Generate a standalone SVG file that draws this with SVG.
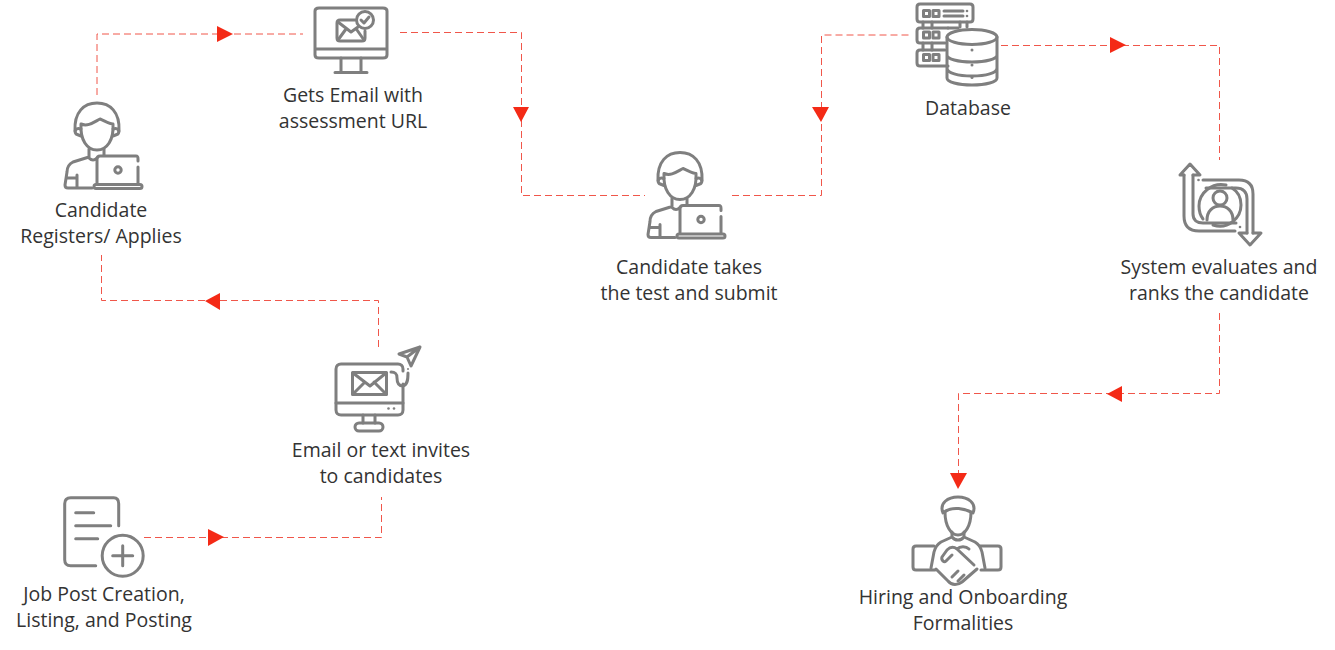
<svg xmlns="http://www.w3.org/2000/svg" xmlns:xlink="http://www.w3.org/1999/xlink" width="1335" height="650" viewBox="0 0 1335 650">
<style>
.i{fill:none;stroke:#7f7f7f;stroke-width:3;stroke-linecap:round;stroke-linejoin:round}
.d{fill:#7f7f7f;stroke:none}
.c{fill:none;stroke:#f0564a;stroke-width:1;stroke-dasharray:7 4}
.a{fill:#f42a16;stroke:none}
text{font-family:"Open Sans","Noto Sans","Liberation Sans",sans-serif;font-size:19.5px;fill:#333;text-anchor:middle}
</style>
<defs>
<g id="person">
<path class="i" d="M75 131C74 112 84 103 97 103C110 103 120 112 119 131"/>
<path class="i" d="M81 124C88 127 94 122 100 119C105 121 109 124 113 124C114 140 107 150 97 150C87 150 80 140 81 124Z"/>
<path class="i" d="M81 129C76 127 74 131 76 134L81 136M113 129C118 127 120 131 118 134L113 136"/>
<path class="i" d="M89 149V157L73 162C69 164 67 168 67 172L65 185C65 187 66 188 68 188H92M104 149V155M89 158C92 161 95 160 97 158M77 175V188M66 178H77"/>
<path class="i" d="M97 183V159C97 157 98 156 100 156H136C138 156 138 157 138 159V161M138 167V183"/>
<rect class="i" x="94" y="184.500" width="48" height="4" rx="2"/>
<circle class="i" cx="118" cy="170" r="3.200"/>
</g>
</defs>
<g id="connectors">
<path class="c" d="M97 95V34H303"/><path class="a" d="M217 26L233 34L217 42Z"/>
<path class="c" d="M400 32.500H521.500V195.500H645"/><path class="a" d="M513 107H529L521 122Z"/>
<path class="c" d="M732 195.500H821.500V35H910"/><path class="a" d="M812 107H829L821 122Z"/>
<path class="c" d="M1001 45.500H1219.500V160"/><path class="a" d="M1110 37L1126 45L1110 53Z"/>
<path class="c" d="M1219.500 313V393.500H958.500V475"/><path class="a" d="M1122 386L1107 394L1122 402Z"/><path class="a" d="M950 473H967L958 489Z"/>
<path class="c" d="M378.500 347V300.500H101.500V255"/><path class="a" d="M220 293L205 301L220 310Z"/>
<path class="c" d="M144 537.500H381.500V497"/><path class="a" d="M208 529L224 537L208 546Z"/>
</g>
<g id="job-post">
<g transform="translate(0.700 0.700)">
<path class="i" d="M118 525V503C118 499 116 497 113 497H70C66 497 64 499 64 503V559C64 563 66 565 70 565H95"/>
<path class="i" d="M75 512H93M75 525H110M75 538H97"/>
<circle class="i" cx="122" cy="555" r="20.500"/>
<path class="i" d="M122 545V565M112 555H132"/>
</g>
<text x="104" y="601">Job Post Creation,</text><text x="104" y="627">Listing, and Posting</text>
</g>
<g id="invites">
<path class="i" d="M403 384V410C403 413 401 415 398 415H341C338 415 336 413 336 410V369C336 366 338 364 341 364H398C401 364 403 366 403 369V371"/>
<path class="i" d="M336 403H403M363 415V423M375 415V423"/>
<rect class="i" x="355" y="423" width="28" height="8" rx="4"/>
<rect class="i" x="352.500" y="372.500" width="34" height="22"/>
<path class="i" d="M353 373L370 386L386 373M353 394L365 382M386 394L374 382"/>
<path class="i" d="M391 372C396 372 397 374 397 378C397 384 400 386 403 386C407 385 408 381 408 373"/>
<path class="i" d="M420 347L399 354L407 357L411 366ZM407 357L420 347"/>
<circle class="d" cx="408" cy="369" r="1"/><circle class="d" cx="388.500" cy="408.500" r="1.300"/><circle class="d" cx="394" cy="408.500" r="1.300"/>
<text x="381" y="457">Email or text invites</text><text x="381" y="483">to candidates</text>
</g>
<g id="registers">
<use href="#person" xlink:href="#person"/>
<text x="101" y="217">Candidate</text><text x="101" y="243">Registers/ Applies</text>
</g>
<g id="gets-email">
<path class="i" d="M387 49V11C387 9 385 8 383 8H319C317 8 315 9 315 11V55C315 57 317 58 319 58H383C385 58 387 57 387 55V49H315"/>
<path class="i" d="M341 58V72M361 58V72M335 72.500H367"/>
<path class="i" d="M355 20H340C338 20 337 21 337 23V38C337 40 338 41 340 41H362C364 41 365 40 365 38V31"/>
<path class="i" d="M338 22L351 32L358 27M338 40L346 29M364 40L357 30"/>
<circle class="i" cx="365" cy="20" r="8.500"/>
<path class="i" d="M361 20L364 23L369 17"/>
<text x="353" y="102">Gets Email with</text><text x="353" y="128">assessment URL</text>
</g>
<g id="takes-test">
<use href="#person" xlink:href="#person" transform="translate(583 49.500)"/>
<text x="689" y="274">Candidate takes</text><text x="689" y="300">the test and submit</text>
</g>
<g id="database">
<path class="i" d="M948 22H920C918 22 917 21 917 19V7C917 5 918 4 920 4H970C972 4 973 5 973 7V19C973 21 972 22 970 22H948"/>
<path class="i" d="M948 28H920C918 28 917 29 917 31V40C917 42 918 43 920 43H945M945 50H920C918 50 917 51 917 53V63C917 65 918 66 920 66H948"/>
<path class="i" d="M923 22V28M932 22V28M923 43V50M932 43V50M960 22V27M967 22V27M948 28H958"/>
<path class="i" d="M923.500 10.500H929.500V16.500H923.500ZM933 10.500H939V16.500H933ZM923.500 32H929.500V38H923.500ZM933 32H939V38H933ZM923.500 54.500H929.500V60.500H923.500ZM933 54.500H939V60.500H933Z"/>
<path class="i" d="M944 11H963M944 16H963"/>
<circle class="d" cx="967" cy="11" r="1.300"/><circle class="d" cx="967" cy="16" r="1.300"/>
<ellipse class="i" cx="972" cy="37" rx="25" ry="7.500"/>
<path class="i" d="M947 37V78C947 82 958 85 972 85C986 85 997 82 997 78V37M947 55C947 59 958 62 972 62C986 62 997 59 997 55M947 68C947 73 958 76 972 76C986 76 997 73 997 68"/>
<circle class="d" cx="972" cy="50" r="1.500"/><circle class="d" cx="972" cy="65" r="1.500"/><circle class="d" cx="972" cy="77.500" r="1.500"/>
<text x="968" y="115">Database</text>
</g>
<g id="system">
<path class="i" d="M1184 175V216C1184 226 1189 231 1199 231H1235M1193 175V214C1193 220 1197 223 1203 223H1236"/>
<path class="i" d="M1184 175H1180L1190 164L1200 175H1193"/>
<path class="i" d="M1203 180H1239C1249 180 1253 185 1253 194V233M1206 188H1236C1243 188 1247 192 1247 199V233"/>
<path class="i" d="M1247 233H1239L1250 245L1261 233H1253"/>
<circle class="d" cx="1198.500" cy="180" r="1.300"/><circle class="d" cx="1240" cy="227" r="1.300"/>
<path class="i" d="M1226 185C1212 182 1199 193 1199 206C1199 211 1200 215 1203 219M1213 225C1228 230 1241 218 1241 205C1241 197 1237 191 1232 188"/>
<circle class="i" cx="1220" cy="198" r="7"/>
<path class="i" d="M1207 220C1207 211 1213 206 1220 206C1227 206 1233 211 1233 220"/>
<text x="1219" y="274">System evaluates and</text><text x="1219" y="300">ranks the candidate</text>
</g>
<g id="hiring">
<path class="i" d="M943 513C939 503 948 497 958 497C968 497 977 503 973 513C966 509 952 505 943 513Z"/>
<path class="i" d="M945 512C945 526 951 535 958 535C965 535 971 526 971 512"/>
<path class="i" d="M952 532V537C955 541 961 541 964 537V532M952 537L941 542C936 545 935 548 934 552L931 568M964 537L975 542C980 545 981 548 982 552L985 568"/>
<path class="i" d="M934 546H916C914 546 913 547 913 549V567C913 569 914 570 916 570H935M980 546H998C1000 546 1001 547 1001 549V567C1001 569 1000 570 998 570H981"/>
<path class="i" d="M936 569L948 581C952 586 958 585 962 582L977 569"/>
<path class="i" d="M974 565L957 549C953 546 950 547 947 550L942 557C941 560 944 563 946 561L952 555M957 549C960 546 966 546 969 549M952 577L958 571M958 581L964 575"/>
<text x="963" y="604">Hiring and Onboarding</text><text x="963" y="630">Formalities</text>
</g>
</svg>
